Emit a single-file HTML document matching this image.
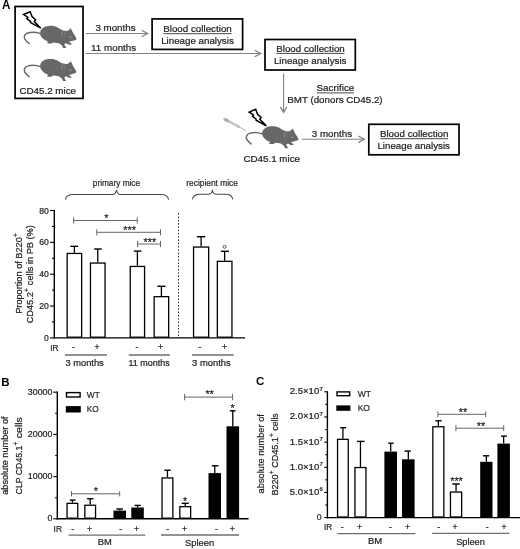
<!DOCTYPE html>
<html><head><meta charset="utf-8"><title>Figure</title>
<style>
html,body{margin:0;padding:0;background:#fff;}
body{width:520px;height:549px;overflow:hidden;}
svg{display:block;font-family:"Liberation Sans", sans-serif;filter:blur(0.3px);}
text{white-space:pre;stroke:#1e1e1e;stroke-width:0.22px;}
</style></head>
<body>
<svg width="520" height="549" viewBox="0 0 520 549" fill="#1e1e1e">
<rect width="520" height="549" fill="#fff"/>
<text x="1.90" y="8.60" font-size="12.2" textLength="8.40" lengthAdjust="spacingAndGlyphs" font-weight="bold" fill="#000" style="stroke:none">A</text>
<rect x="15.10" y="6.50" width="67.90" height="91.90" stroke="#000" stroke-width="1.7" fill="none"/>
<g transform="translate(0,0)">
<path d="M40.8,33.6 C37,32.3 31,31.8 27.5,33 C24.5,34 23.6,36.8 24.8,39 C25.8,40.8 27.6,42.5 29.6,43.9" fill="none" stroke="#686868" stroke-width="1.5"/>
<path d="M40.2,33.9 C40.0,31 41,29.3 42.8,28 C44.5,26.7 46.5,25.9 48.7,25.9 C51,25.8 53,25.9 54.6,26.3 C56.5,26.9 58.2,27.8 59.7,28.8 C61,29.7 62,30.3 63.1,30.5 C64.5,30.9 66,31 67.3,30.9 L69.4,29.7 L70.7,28 L71.5,29.7 C72.1,30.8 72.7,32 73.2,33.1 C74.5,35 75.8,37 76.6,39 C76.2,39.7 75.6,40 74.9,40.2 C73.8,40.6 72.6,40.9 71.5,41.1 L69,41.8 L71.1,43.6 L71.7,44.9 L68.6,44.5 L66,43.2 L64.2,44.3 L65.4,46.6 L66.5,47.9 L63.1,47.9 L61.8,45.3 C60.8,44.6 59.8,43.8 58.8,43.2 C56.5,42.8 54.7,42.5 52.9,42.4 L51.7,43.6 L47.8,43.6 L47,42.8 L48.3,41.7 C46.8,41.3 45.5,40.6 44.5,39.8 C43.1,38.8 41.9,37.6 41.1,36.4 C40.6,35.6 40.3,34.8 40.2,33.9 Z" fill="#676767"/>
<path d="M63.6,31.4 C61.4,31.8 61.2,36 63.4,37.2" fill="none" stroke="#8e8e8e" stroke-width="0.9"/>
<path d="M65.6,31.6 C64.2,32.4 64.2,35.6 65.4,36.6" fill="none" stroke="#808080" stroke-width="0.7"/>
<ellipse cx="70.4" cy="36.9" rx="1.0" ry="0.8" fill="#a4a4a4"/>
</g>
<path transform="translate(0,0)" d="M23.6,14.5 L30.2,11.7 L32.0,16.6 L35.6,19.8 L34.3,21.6 L40.8,28.2 L30.6,22.6 L30.4,21.3 L26.9,18.6 L27.9,17.4 Z" fill="#fff" stroke="#000" stroke-width="1.5" stroke-linejoin="miter"/>
<g transform="translate(0,33.1)">
<path d="M40.8,33.6 C37,32.3 31,31.8 27.5,33 C24.5,34 23.6,36.8 24.8,39 C25.8,40.8 27.6,42.5 29.6,43.9" fill="none" stroke="#686868" stroke-width="1.5"/>
<path d="M40.2,33.9 C40.0,31 41,29.3 42.8,28 C44.5,26.7 46.5,25.9 48.7,25.9 C51,25.8 53,25.9 54.6,26.3 C56.5,26.9 58.2,27.8 59.7,28.8 C61,29.7 62,30.3 63.1,30.5 C64.5,30.9 66,31 67.3,30.9 L69.4,29.7 L70.7,28 L71.5,29.7 C72.1,30.8 72.7,32 73.2,33.1 C74.5,35 75.8,37 76.6,39 C76.2,39.7 75.6,40 74.9,40.2 C73.8,40.6 72.6,40.9 71.5,41.1 L69,41.8 L71.1,43.6 L71.7,44.9 L68.6,44.5 L66,43.2 L64.2,44.3 L65.4,46.6 L66.5,47.9 L63.1,47.9 L61.8,45.3 C60.8,44.6 59.8,43.8 58.8,43.2 C56.5,42.8 54.7,42.5 52.9,42.4 L51.7,43.6 L47.8,43.6 L47,42.8 L48.3,41.7 C46.8,41.3 45.5,40.6 44.5,39.8 C43.1,38.8 41.9,37.6 41.1,36.4 C40.6,35.6 40.3,34.8 40.2,33.9 Z" fill="#676767"/>
<path d="M63.6,31.4 C61.4,31.8 61.2,36 63.4,37.2" fill="none" stroke="#8e8e8e" stroke-width="0.9"/>
<path d="M65.6,31.6 C64.2,32.4 64.2,35.6 65.4,36.6" fill="none" stroke="#808080" stroke-width="0.7"/>
<ellipse cx="70.4" cy="36.9" rx="1.0" ry="0.8" fill="#a4a4a4"/>
</g>
<text x="19.40" y="93.90" font-size="9.7" textLength="56.60" lengthAdjust="spacingAndGlyphs" >CD45.2 mice</text>
<line x1="85.80" y1="33.50" x2="147.10" y2="33.50" stroke="#828282" stroke-width="1.1" />
<polyline points="141.60,30.20 147.60,33.50 141.60,36.80" fill="none" stroke="#828282" stroke-width="1.3"/>
<text x="95.40" y="30.80" font-size="9.7" textLength="40.20" lengthAdjust="spacingAndGlyphs" >3 months</text>
<line x1="85.80" y1="53.50" x2="260.30" y2="53.50" stroke="#828282" stroke-width="1.1" />
<polyline points="254.80,50.20 260.80,53.50 254.80,56.80" fill="none" stroke="#828282" stroke-width="1.3"/>
<text x="91.10" y="51.00" font-size="9.7" textLength="45.10" lengthAdjust="spacingAndGlyphs" >11 months</text>
<rect x="152.10" y="18.90" width="90.50" height="30.50" stroke="#000" stroke-width="1.7" fill="none"/>
<text x="163.20" y="32.10" font-size="9.7" textLength="68.60" lengthAdjust="spacingAndGlyphs" >Blood collection</text>
<line x1="163.50" y1="33.70" x2="231.50" y2="33.70" stroke="#333" stroke-width="0.9" />
<text x="161.20" y="43.70" font-size="9.7" textLength="72.60" lengthAdjust="spacingAndGlyphs" >Lineage analysis</text>
<rect x="265.00" y="39.50" width="90.30" height="30.50" stroke="#000" stroke-width="1.7" fill="none"/>
<text x="276.20" y="51.80" font-size="9.7" textLength="68.60" lengthAdjust="spacingAndGlyphs" >Blood collection</text>
<line x1="276.50" y1="53.40" x2="344.50" y2="53.40" stroke="#333" stroke-width="0.9" />
<text x="273.90" y="64.20" font-size="9.7" textLength="72.60" lengthAdjust="spacingAndGlyphs" >Lineage analysis</text>
<line x1="283.60" y1="73.60" x2="283.60" y2="111.70" stroke="#828282" stroke-width="1.1" />
<polyline points="280.30,106.80 283.60,112.20 286.90,106.80" fill="none" stroke="#828282" stroke-width="1.3"/>
<text x="316.40" y="91.20" font-size="9.7" textLength="38.00" lengthAdjust="spacingAndGlyphs" >Sacrifice</text>
<line x1="316.80" y1="92.90" x2="354.00" y2="92.90" stroke="#333" stroke-width="0.9" />
<text x="287.30" y="103.20" font-size="9.7" textLength="95.30" lengthAdjust="spacingAndGlyphs" >BMT (donors CD45.2)</text>
<line x1="224.6" y1="119.2" x2="238.5" y2="126.6" stroke="#c4c4c4" stroke-width="2.6" stroke-linecap="round"/>
<line x1="224.6" y1="119.2" x2="228.5" y2="121.3" stroke="#b0b0b0" stroke-width="3.2"/>
<line x1="237" y1="125.8" x2="246" y2="130.7" stroke="#a8a8a8" stroke-width="0.9"/>
<g transform="translate(222,100.4)">
<path d="M40.8,33.6 C37,32.3 31,31.8 27.5,33 C24.5,34 23.6,36.8 24.8,39 C25.8,40.8 27.6,42.5 29.6,43.9" fill="none" stroke="#686868" stroke-width="1.5"/>
<path d="M40.2,33.9 C40.0,31 41,29.3 42.8,28 C44.5,26.7 46.5,25.9 48.7,25.9 C51,25.8 53,25.9 54.6,26.3 C56.5,26.9 58.2,27.8 59.7,28.8 C61,29.7 62,30.3 63.1,30.5 C64.5,30.9 66,31 67.3,30.9 L69.4,29.7 L70.7,28 L71.5,29.7 C72.1,30.8 72.7,32 73.2,33.1 C74.5,35 75.8,37 76.6,39 C76.2,39.7 75.6,40 74.9,40.2 C73.8,40.6 72.6,40.9 71.5,41.1 L69,41.8 L71.1,43.6 L71.7,44.9 L68.6,44.5 L66,43.2 L64.2,44.3 L65.4,46.6 L66.5,47.9 L63.1,47.9 L61.8,45.3 C60.8,44.6 59.8,43.8 58.8,43.2 C56.5,42.8 54.7,42.5 52.9,42.4 L51.7,43.6 L47.8,43.6 L47,42.8 L48.3,41.7 C46.8,41.3 45.5,40.6 44.5,39.8 C43.1,38.8 41.9,37.6 41.1,36.4 C40.6,35.6 40.3,34.8 40.2,33.9 Z" fill="#676767"/>
<path d="M63.6,31.4 C61.4,31.8 61.2,36 63.4,37.2" fill="none" stroke="#8e8e8e" stroke-width="0.9"/>
<path d="M65.6,31.6 C64.2,32.4 64.2,35.6 65.4,36.6" fill="none" stroke="#808080" stroke-width="0.7"/>
<ellipse cx="70.4" cy="36.9" rx="1.0" ry="0.8" fill="#a4a4a4"/>
</g>
<path transform="translate(225.5,97.6)" d="M23.6,14.5 L30.2,11.7 L32.0,16.6 L35.6,19.8 L34.3,21.6 L40.8,28.2 L30.6,22.6 L30.4,21.3 L26.9,18.6 L27.9,17.4 Z" fill="#fff" stroke="#000" stroke-width="1.5" stroke-linejoin="miter"/>
<text x="243.40" y="161.50" font-size="9.7" textLength="56.60" lengthAdjust="spacingAndGlyphs" >CD45.1 mice</text>
<line x1="301.90" y1="139.30" x2="363.80" y2="139.30" stroke="#828282" stroke-width="1.1" />
<polyline points="358.30,136.00 364.30,139.30 358.30,142.60" fill="none" stroke="#828282" stroke-width="1.3"/>
<text x="311.80" y="136.50" font-size="9.7" textLength="40.30" lengthAdjust="spacingAndGlyphs" >3 months</text>
<rect x="368.80" y="124.30" width="90.20" height="30.50" stroke="#000" stroke-width="1.7" fill="none"/>
<text x="379.90" y="137.10" font-size="9.7" textLength="68.60" lengthAdjust="spacingAndGlyphs" >Blood collection</text>
<line x1="380.20" y1="138.70" x2="448.20" y2="138.70" stroke="#333" stroke-width="0.9" />
<text x="377.40" y="148.60" font-size="9.7" textLength="72.60" lengthAdjust="spacingAndGlyphs" >Lineage analysis</text>
<text x="92.80" y="186.00" font-size="8.6" textLength="47.30" lengthAdjust="spacingAndGlyphs" fill="#333" >primary mice</text>
<path d="M65.4,199.6 C66.2,195.7 68.4,194.5 72.9,194.5 L112.5,194.5 C114.9,194.5 115.9,193.0 116.5,190.2 C117.1,193.0 118.1,194.5 120.5,194.5 L161.1,194.5 C165.6,194.5 167.79999999999998,195.7 168.6,199.6" fill="none" stroke="#4a4a4a" stroke-width="1.1"/>
<text x="186.30" y="185.70" font-size="8.6" textLength="51.60" lengthAdjust="spacingAndGlyphs" fill="#333" >recipient mice</text>
<path d="M192.4,199.3 C193.20000000000002,195.5 195.4,194.3 199.9,194.3 L208.4,194.3 C210.8,194.3 211.8,192.8 212.4,190.7 C213.0,192.8 214.0,194.3 216.4,194.3 L225.3,194.3 C229.8,194.3 232.0,195.5 232.8,199.3" fill="none" stroke="#4a4a4a" stroke-width="1.1"/>
<line x1="54.30" y1="209.90" x2="54.30" y2="338.60" stroke="#000" stroke-width="1.4" />
<line x1="53.60" y1="337.90" x2="245.00" y2="337.90" stroke="#000" stroke-width="1.4" />
<line x1="50.00" y1="337.90" x2="54.30" y2="337.90" stroke="#000" stroke-width="1.1" />
<text x="48.90" y="340.90" font-size="8.6" text-anchor="end" >0</text>
<line x1="52.00" y1="321.97" x2="54.30" y2="321.97" stroke="#000" stroke-width="1.1" />
<line x1="50.00" y1="306.05" x2="54.30" y2="306.05" stroke="#000" stroke-width="1.1" />
<text x="48.90" y="309.05" font-size="8.6" text-anchor="end" >20</text>
<line x1="52.00" y1="290.12" x2="54.30" y2="290.12" stroke="#000" stroke-width="1.1" />
<line x1="50.00" y1="274.20" x2="54.30" y2="274.20" stroke="#000" stroke-width="1.1" />
<text x="48.90" y="277.20" font-size="8.6" text-anchor="end" >40</text>
<line x1="52.00" y1="258.27" x2="54.30" y2="258.27" stroke="#000" stroke-width="1.1" />
<line x1="50.00" y1="242.35" x2="54.30" y2="242.35" stroke="#000" stroke-width="1.1" />
<text x="48.90" y="245.35" font-size="8.6" text-anchor="end" >60</text>
<line x1="52.00" y1="226.42" x2="54.30" y2="226.42" stroke="#000" stroke-width="1.1" />
<line x1="50.00" y1="210.50" x2="54.30" y2="210.50" stroke="#000" stroke-width="1.1" />
<text x="48.90" y="213.50" font-size="8.6" text-anchor="end" >80</text>
<line x1="74.40" y1="246.30" x2="74.40" y2="252.80" stroke="#000" stroke-width="1.3" />
<line x1="70.30" y1="246.30" x2="78.10" y2="246.30" stroke="#000" stroke-width="1.4" />
<rect x="67.15" y="253.45" width="14.50" height="83.75" fill="#fff" stroke="#000" stroke-width="1.3"/>
<line x1="97.75" y1="249.00" x2="97.75" y2="262.40" stroke="#000" stroke-width="1.3" />
<line x1="94.20" y1="249.00" x2="101.80" y2="249.00" stroke="#000" stroke-width="1.4" />
<rect x="90.45" y="263.05" width="14.60" height="74.15" fill="#fff" stroke="#000" stroke-width="1.3"/>
<line x1="137.40" y1="251.10" x2="137.40" y2="265.80" stroke="#000" stroke-width="1.3" />
<line x1="133.80" y1="251.10" x2="141.40" y2="251.10" stroke="#000" stroke-width="1.4" />
<rect x="130.25" y="266.45" width="14.30" height="70.75" fill="#fff" stroke="#000" stroke-width="1.3"/>
<line x1="161.40" y1="286.30" x2="161.40" y2="296.00" stroke="#000" stroke-width="1.3" />
<line x1="157.30" y1="286.30" x2="165.50" y2="286.30" stroke="#000" stroke-width="1.4" />
<rect x="154.15" y="296.65" width="14.50" height="40.55" fill="#fff" stroke="#000" stroke-width="1.3"/>
<line x1="201.10" y1="236.70" x2="201.10" y2="246.40" stroke="#000" stroke-width="1.3" />
<line x1="196.90" y1="236.70" x2="205.30" y2="236.70" stroke="#000" stroke-width="1.4" />
<rect x="193.55" y="247.05" width="15.10" height="90.15" fill="#fff" stroke="#000" stroke-width="1.3"/>
<line x1="224.65" y1="251.30" x2="224.65" y2="260.70" stroke="#000" stroke-width="1.3" />
<line x1="220.90" y1="251.30" x2="229.00" y2="251.30" stroke="#000" stroke-width="1.4" />
<rect x="217.35" y="261.35" width="14.60" height="75.85" fill="#fff" stroke="#000" stroke-width="1.3"/>
<line x1="178.50" y1="213.20" x2="178.50" y2="337.20" stroke="#333" stroke-width="1.0" stroke-dasharray="1.6,1.68"/>
<circle cx="224.6" cy="246.8" r="1.5" fill="none" stroke="#333" stroke-width="0.8"/>
<line x1="73.60" y1="220.50" x2="137.30" y2="220.50" stroke="#666666" stroke-width="1.0" />
<line x1="73.60" y1="217.40" x2="73.60" y2="223.60" stroke="#666666" stroke-width="1.0" />
<line x1="137.30" y1="217.40" x2="137.30" y2="223.60" stroke="#666666" stroke-width="1.0" />
<text x="106.30" y="222.46" font-size="10.8" text-anchor="middle" fill="#222" >*</text>
<line x1="96.80" y1="232.30" x2="160.50" y2="232.30" stroke="#666666" stroke-width="1.0" />
<line x1="96.80" y1="229.20" x2="96.80" y2="235.40" stroke="#666666" stroke-width="1.0" />
<line x1="160.50" y1="229.20" x2="160.50" y2="235.40" stroke="#666666" stroke-width="1.0" />
<text x="129.60" y="234.26" font-size="10.8" text-anchor="middle" fill="#222" >***</text>
<line x1="137.60" y1="244.00" x2="160.50" y2="244.00" stroke="#666666" stroke-width="1.0" />
<line x1="137.60" y1="240.90" x2="137.60" y2="247.10" stroke="#666666" stroke-width="1.0" />
<line x1="160.50" y1="240.90" x2="160.50" y2="247.10" stroke="#666666" stroke-width="1.0" />
<text x="149.80" y="245.76" font-size="10.8" text-anchor="middle" fill="#222" >***</text>
<g transform="translate(21.8,313.8) rotate(-90)">
<text x="0.00" y="0.00" font-size="9.2" textLength="76.60" lengthAdjust="spacingAndGlyphs" >Proportion of B220</text>
<text x="76.90" y="-4.20" font-size="6.5" >+</text>
</g>
<g transform="translate(33.2,323.3) rotate(-90)">
<text x="0.00" y="0.00" font-size="9.2" textLength="31.20" lengthAdjust="spacingAndGlyphs" >CD45.2</text>
<text x="31.40" y="-4.20" font-size="6.5" >+</text>
<text x="35.60" y="0.00" font-size="9.2" textLength="62.60" lengthAdjust="spacingAndGlyphs" > cells in PB (%)</text>
</g>
<text x="50.30" y="350.70" font-size="8.8" textLength="8.20" lengthAdjust="spacingAndGlyphs" >IR</text>
<text x="73.50" y="350.00" font-size="8.6" text-anchor="middle" >-</text>
<text x="96.90" y="350.00" font-size="8.6" text-anchor="middle" >+</text>
<text x="137.00" y="350.00" font-size="8.6" text-anchor="middle" >-</text>
<text x="160.40" y="350.00" font-size="8.6" text-anchor="middle" >+</text>
<text x="200.00" y="350.00" font-size="8.6" text-anchor="middle" >-</text>
<text x="224.50" y="350.00" font-size="8.6" text-anchor="middle" >+</text>
<line x1="64.90" y1="355.00" x2="106.90" y2="355.00" stroke="#6e6e6e" stroke-width="1.3" />
<line x1="128.80" y1="355.00" x2="170.00" y2="355.00" stroke="#6e6e6e" stroke-width="1.3" />
<line x1="192.00" y1="355.00" x2="233.70" y2="355.00" stroke="#6e6e6e" stroke-width="1.3" />
<text x="65.50" y="366.20" font-size="9.2" textLength="38.20" lengthAdjust="spacingAndGlyphs" >3 months</text>
<text x="128.40" y="366.10" font-size="9.2" textLength="41.40" lengthAdjust="spacingAndGlyphs" >11 months</text>
<text x="192.10" y="366.10" font-size="9.2" textLength="38.60" lengthAdjust="spacingAndGlyphs" >3 months</text>
<text x="1.20" y="385.50" font-size="11.5" font-weight="bold" fill="#000" style="stroke:none">B</text>
<line x1="57.30" y1="391.60" x2="57.30" y2="519.50" stroke="#000" stroke-width="1.4" />
<line x1="56.60" y1="518.80" x2="248.60" y2="518.80" stroke="#000" stroke-width="1.4" />
<line x1="53.30" y1="518.80" x2="57.30" y2="518.80" stroke="#000" stroke-width="1.1" />
<text x="52.50" y="521.40" font-size="8.9" text-anchor="end" >0</text>
<line x1="55.20" y1="497.70" x2="57.30" y2="497.70" stroke="#000" stroke-width="1.1" />
<line x1="53.30" y1="476.60" x2="57.30" y2="476.60" stroke="#000" stroke-width="1.1" />
<text x="52.50" y="479.20" font-size="8.9" text-anchor="end" >10000</text>
<line x1="55.20" y1="455.50" x2="57.30" y2="455.50" stroke="#000" stroke-width="1.1" />
<line x1="53.30" y1="434.40" x2="57.30" y2="434.40" stroke="#000" stroke-width="1.1" />
<text x="52.50" y="437.00" font-size="8.9" text-anchor="end" >20000</text>
<line x1="55.20" y1="413.30" x2="57.30" y2="413.30" stroke="#000" stroke-width="1.1" />
<line x1="53.30" y1="392.20" x2="57.30" y2="392.20" stroke="#000" stroke-width="1.1" />
<text x="52.50" y="394.80" font-size="8.9" text-anchor="end" >30000</text>
<line x1="72.40" y1="500.10" x2="72.40" y2="502.70" stroke="#000" stroke-width="1.3" />
<line x1="69.80" y1="500.10" x2="75.60" y2="500.10" stroke="#000" stroke-width="1.4" />
<rect x="67.05" y="503.35" width="10.70" height="14.85" fill="#fff" stroke="#000" stroke-width="1.3"/>
<line x1="90.20" y1="498.70" x2="90.20" y2="504.60" stroke="#000" stroke-width="1.3" />
<line x1="87.10" y1="498.70" x2="93.50" y2="498.70" stroke="#000" stroke-width="1.4" />
<rect x="84.85" y="505.25" width="10.70" height="12.95" fill="#fff" stroke="#000" stroke-width="1.3"/>
<line x1="119.75" y1="509.00" x2="119.75" y2="510.60" stroke="#000" stroke-width="1.3" />
<line x1="116.30" y1="509.00" x2="123.00" y2="509.00" stroke="#000" stroke-width="1.4" />
<rect x="113.50" y="510.60" width="12.50" height="7.60" fill="#000"/>
<line x1="137.55" y1="505.40" x2="137.55" y2="507.50" stroke="#000" stroke-width="1.3" />
<line x1="134.60" y1="505.40" x2="140.80" y2="505.40" stroke="#000" stroke-width="1.4" />
<rect x="131.30" y="507.50" width="12.50" height="10.70" fill="#000"/>
<line x1="167.45" y1="470.20" x2="167.45" y2="477.30" stroke="#000" stroke-width="1.3" />
<line x1="164.30" y1="470.20" x2="170.80" y2="470.20" stroke="#000" stroke-width="1.4" />
<rect x="162.05" y="477.95" width="10.80" height="40.25" fill="#fff" stroke="#000" stroke-width="1.3"/>
<line x1="185.25" y1="503.30" x2="185.25" y2="506.00" stroke="#000" stroke-width="1.3" />
<line x1="181.70" y1="503.30" x2="188.80" y2="503.30" stroke="#000" stroke-width="1.4" />
<rect x="179.85" y="506.65" width="10.80" height="11.55" fill="#fff" stroke="#000" stroke-width="1.3"/>
<line x1="214.75" y1="465.80" x2="214.75" y2="473.10" stroke="#000" stroke-width="1.3" />
<line x1="211.90" y1="465.80" x2="218.50" y2="465.80" stroke="#000" stroke-width="1.4" />
<rect x="208.50" y="473.10" width="12.50" height="45.10" fill="#000"/>
<line x1="232.80" y1="410.80" x2="232.80" y2="426.30" stroke="#000" stroke-width="1.3" />
<line x1="229.80" y1="410.80" x2="235.60" y2="410.80" stroke="#000" stroke-width="1.4" />
<rect x="226.50" y="426.30" width="12.60" height="91.90" fill="#000"/>
<text x="185.20" y="504.66" font-size="10.8" text-anchor="middle" fill="#222" >*</text>
<text x="232.70" y="411.86" font-size="10.8" text-anchor="middle" fill="#222" >*</text>
<line x1="71.50" y1="493.80" x2="119.70" y2="493.80" stroke="#666666" stroke-width="1.0" />
<line x1="71.50" y1="491.20" x2="71.50" y2="496.40" stroke="#666666" stroke-width="1.0" />
<line x1="119.70" y1="491.20" x2="119.70" y2="496.40" stroke="#666666" stroke-width="1.0" />
<text x="95.80" y="494.96" font-size="10.8" text-anchor="middle" fill="#222" >*</text>
<line x1="184.60" y1="397.10" x2="232.60" y2="397.10" stroke="#666666" stroke-width="1.0" />
<line x1="184.60" y1="393.90" x2="184.60" y2="400.30" stroke="#666666" stroke-width="1.0" />
<line x1="232.60" y1="393.90" x2="232.60" y2="400.30" stroke="#666666" stroke-width="1.0" />
<text x="209.60" y="398.16" font-size="10.8" text-anchor="middle" fill="#222" >**</text>
<rect x="66.50" y="392.60" width="13.60" height="4.40" stroke="#000" stroke-width="1.4" fill="none"/>
<rect x="65.8" y="406.1" width="15" height="6.4" fill="#000"/>
<text x="86.80" y="397.60" font-size="8.6" textLength="13.00" lengthAdjust="spacingAndGlyphs" fill="#333" >WT</text>
<text x="86.80" y="412.40" font-size="8.6" textLength="12.00" lengthAdjust="spacingAndGlyphs" fill="#333" >KO</text>
<g transform="translate(7.6,494.8) rotate(-90)">
<text x="0.00" y="0.00" font-size="9.2" textLength="78.40" lengthAdjust="spacingAndGlyphs" >absolute number of</text>
</g>
<g transform="translate(21.8,494.4) rotate(-90)">
<text x="0.00" y="0.00" font-size="9.2" textLength="48.80" lengthAdjust="spacingAndGlyphs" >CLP CD45.1</text>
<text x="49.00" y="-4.20" font-size="6.5" >+</text>
<text x="53.20" y="0.00" font-size="9.2" textLength="24.10" lengthAdjust="spacingAndGlyphs" > cells</text>
</g>
<text x="53.60" y="532.30" font-size="8.8" textLength="8.30" lengthAdjust="spacingAndGlyphs" >IR</text>
<text x="72.70" y="531.50" font-size="8.6" text-anchor="middle" >-</text>
<text x="89.40" y="531.50" font-size="8.6" text-anchor="middle" >+</text>
<text x="120.80" y="531.50" font-size="8.6" text-anchor="middle" >-</text>
<text x="136.50" y="531.50" font-size="8.6" text-anchor="middle" >+</text>
<text x="167.80" y="531.50" font-size="8.6" text-anchor="middle" >-</text>
<text x="184.50" y="531.50" font-size="8.6" text-anchor="middle" >+</text>
<text x="216.50" y="531.50" font-size="8.6" text-anchor="middle" >-</text>
<text x="232.30" y="531.50" font-size="8.6" text-anchor="middle" >+</text>
<line x1="68.50" y1="535.10" x2="145.20" y2="535.10" stroke="#6e6e6e" stroke-width="1.3" />
<line x1="161.00" y1="535.00" x2="239.00" y2="535.00" stroke="#6e6e6e" stroke-width="1.3" />
<text x="97.70" y="545.40" font-size="9.2" textLength="14.00" lengthAdjust="spacingAndGlyphs" >BM</text>
<text x="185.00" y="545.60" font-size="9.2" textLength="29.20" lengthAdjust="spacingAndGlyphs" >Spleen</text>
<text x="256.00" y="384.80" font-size="11.5" font-weight="bold" fill="#000" style="stroke:none">C</text>
<line x1="327.40" y1="391.20" x2="327.40" y2="518.30" stroke="#000" stroke-width="1.4" />
<line x1="326.70" y1="517.60" x2="520.00" y2="517.60" stroke="#000" stroke-width="1.4" />
<line x1="324.20" y1="517.60" x2="327.40" y2="517.60" stroke="#000" stroke-width="1.1" />
<line x1="325.30" y1="505.02" x2="327.40" y2="505.02" stroke="#000" stroke-width="1.1" />
<line x1="324.20" y1="492.44" x2="327.40" y2="492.44" stroke="#000" stroke-width="1.1" />
<line x1="325.30" y1="479.86" x2="327.40" y2="479.86" stroke="#000" stroke-width="1.1" />
<line x1="324.20" y1="467.28" x2="327.40" y2="467.28" stroke="#000" stroke-width="1.1" />
<line x1="325.30" y1="454.70" x2="327.40" y2="454.70" stroke="#000" stroke-width="1.1" />
<line x1="324.20" y1="442.12" x2="327.40" y2="442.12" stroke="#000" stroke-width="1.1" />
<line x1="325.30" y1="429.54" x2="327.40" y2="429.54" stroke="#000" stroke-width="1.1" />
<line x1="324.20" y1="416.96" x2="327.40" y2="416.96" stroke="#000" stroke-width="1.1" />
<line x1="325.30" y1="404.38" x2="327.40" y2="404.38" stroke="#000" stroke-width="1.1" />
<line x1="324.20" y1="391.80" x2="327.40" y2="391.80" stroke="#000" stroke-width="1.1" />
<text x="321.60" y="520.10" font-size="8.6" text-anchor="end" >0</text>
<text x="289.70" y="494.94" font-size="8.6" textLength="29.60" lengthAdjust="spacingAndGlyphs" >5.0×10</text>
<text x="319.60" y="491.44" font-size="6.0" >6</text>
<text x="289.70" y="469.78" font-size="8.6" textLength="29.60" lengthAdjust="spacingAndGlyphs" >1.0×10</text>
<text x="319.60" y="466.28" font-size="6.0" >7</text>
<text x="289.70" y="444.62" font-size="8.6" textLength="29.60" lengthAdjust="spacingAndGlyphs" >1.5×10</text>
<text x="319.60" y="441.12" font-size="6.0" >7</text>
<text x="289.70" y="419.46" font-size="8.6" textLength="29.60" lengthAdjust="spacingAndGlyphs" >2.0×10</text>
<text x="319.60" y="415.96" font-size="6.0" >7</text>
<text x="289.70" y="394.30" font-size="8.6" textLength="29.60" lengthAdjust="spacingAndGlyphs" >2.5×10</text>
<text x="319.60" y="390.80" font-size="6.0" >7</text>
<line x1="342.90" y1="427.70" x2="342.90" y2="438.70" stroke="#000" stroke-width="1.3" />
<line x1="340.20" y1="427.70" x2="346.00" y2="427.70" stroke="#000" stroke-width="1.4" />
<rect x="337.55" y="439.35" width="10.70" height="77.65" fill="#fff" stroke="#000" stroke-width="1.3"/>
<line x1="360.45" y1="441.40" x2="360.45" y2="466.90" stroke="#000" stroke-width="1.3" />
<line x1="356.90" y1="441.40" x2="364.60" y2="441.40" stroke="#000" stroke-width="1.4" />
<rect x="354.95" y="467.55" width="11.00" height="49.45" fill="#fff" stroke="#000" stroke-width="1.3"/>
<line x1="390.70" y1="443.20" x2="390.70" y2="451.60" stroke="#000" stroke-width="1.3" />
<line x1="388.30" y1="443.20" x2="393.70" y2="443.20" stroke="#000" stroke-width="1.4" />
<rect x="384.40" y="451.60" width="12.60" height="65.40" fill="#000"/>
<line x1="408.30" y1="451.10" x2="408.30" y2="459.30" stroke="#000" stroke-width="1.3" />
<line x1="404.60" y1="451.10" x2="410.80" y2="451.10" stroke="#000" stroke-width="1.4" />
<rect x="402.00" y="459.30" width="12.60" height="57.70" fill="#000"/>
<line x1="438.35" y1="420.80" x2="438.35" y2="426.10" stroke="#000" stroke-width="1.3" />
<line x1="435.40" y1="420.80" x2="441.70" y2="420.80" stroke="#000" stroke-width="1.4" />
<rect x="432.85" y="426.75" width="11.00" height="90.25" fill="#fff" stroke="#000" stroke-width="1.3"/>
<line x1="456.05" y1="484.00" x2="456.05" y2="491.40" stroke="#000" stroke-width="1.3" />
<line x1="452.30" y1="484.00" x2="459.70" y2="484.00" stroke="#000" stroke-width="1.4" />
<rect x="450.45" y="492.05" width="11.20" height="24.95" fill="#fff" stroke="#000" stroke-width="1.3"/>
<line x1="486.35" y1="455.80" x2="486.35" y2="461.80" stroke="#000" stroke-width="1.3" />
<line x1="483.00" y1="455.80" x2="489.30" y2="455.80" stroke="#000" stroke-width="1.4" />
<rect x="480.20" y="461.80" width="12.30" height="55.20" fill="#000"/>
<line x1="503.65" y1="436.10" x2="503.65" y2="443.60" stroke="#000" stroke-width="1.3" />
<line x1="501.00" y1="436.10" x2="506.90" y2="436.10" stroke="#000" stroke-width="1.4" />
<rect x="497.40" y="443.60" width="12.50" height="73.40" fill="#000"/>
<text x="456.50" y="484.96" font-size="10.8" text-anchor="middle" fill="#222" >***</text>
<line x1="437.90" y1="414.30" x2="485.70" y2="414.30" stroke="#666666" stroke-width="1.0" />
<line x1="437.90" y1="411.30" x2="437.90" y2="417.30" stroke="#666666" stroke-width="1.0" />
<line x1="485.70" y1="411.30" x2="485.70" y2="417.30" stroke="#666666" stroke-width="1.0" />
<text x="462.90" y="415.86" font-size="10.8" text-anchor="middle" fill="#222" >**</text>
<line x1="455.90" y1="428.20" x2="503.70" y2="428.20" stroke="#666666" stroke-width="1.0" />
<line x1="455.90" y1="425.20" x2="455.90" y2="431.20" stroke="#666666" stroke-width="1.0" />
<line x1="503.70" y1="425.20" x2="503.70" y2="431.20" stroke="#666666" stroke-width="1.0" />
<text x="480.90" y="430.06" font-size="10.8" text-anchor="middle" fill="#222" >**</text>
<rect x="337.00" y="391.90" width="12.70" height="3.80" stroke="#000" stroke-width="1.4" fill="none"/>
<rect x="336.3" y="405.4" width="14.1" height="5.4" fill="#000"/>
<text x="357.70" y="397.10" font-size="8.6" textLength="13.30" lengthAdjust="spacingAndGlyphs" fill="#333" >WT</text>
<text x="357.70" y="411.10" font-size="8.6" textLength="12.30" lengthAdjust="spacingAndGlyphs" fill="#333" >KO</text>
<g transform="translate(264.1,493.4) rotate(-90)">
<text x="0.00" y="0.00" font-size="9.2" textLength="79.30" lengthAdjust="spacingAndGlyphs" >absolute number of</text>
</g>
<g transform="translate(278.3,495.6) rotate(-90)">
<text x="0.00" y="0.00" font-size="9.2" textLength="21.20" lengthAdjust="spacingAndGlyphs" >B220</text>
<text x="21.40" y="-4.20" font-size="6.5" >+</text>
<text x="25.30" y="0.00" font-size="9.2" textLength="33.20" lengthAdjust="spacingAndGlyphs" > CD45.1</text>
<text x="58.70" y="-4.20" font-size="6.5" >+</text>
<text x="62.60" y="0.00" font-size="9.2" textLength="19.60" lengthAdjust="spacingAndGlyphs" > cells</text>
</g>
<text x="324.00" y="530.20" font-size="8.8" textLength="8.20" lengthAdjust="spacingAndGlyphs" >IR</text>
<text x="342.30" y="529.80" font-size="8.6" text-anchor="middle" >-</text>
<text x="359.50" y="529.80" font-size="8.6" text-anchor="middle" >+</text>
<text x="390.50" y="529.80" font-size="8.6" text-anchor="middle" >-</text>
<text x="407.40" y="529.80" font-size="8.6" text-anchor="middle" >+</text>
<text x="438.60" y="529.80" font-size="8.6" text-anchor="middle" >-</text>
<text x="455.00" y="529.80" font-size="8.6" text-anchor="middle" >+</text>
<text x="487.20" y="529.80" font-size="8.6" text-anchor="middle" >-</text>
<text x="504.10" y="529.80" font-size="8.6" text-anchor="middle" >+</text>
<line x1="337.40" y1="533.60" x2="415.40" y2="533.60" stroke="#6e6e6e" stroke-width="1.3" />
<line x1="432.20" y1="533.30" x2="509.40" y2="533.30" stroke="#6e6e6e" stroke-width="1.3" />
<text x="367.90" y="544.30" font-size="9.2" textLength="14.20" lengthAdjust="spacingAndGlyphs" >BM</text>
<text x="456.20" y="544.70" font-size="9.2" textLength="28.60" lengthAdjust="spacingAndGlyphs" >Spleen</text>
</svg>
</body></html>
